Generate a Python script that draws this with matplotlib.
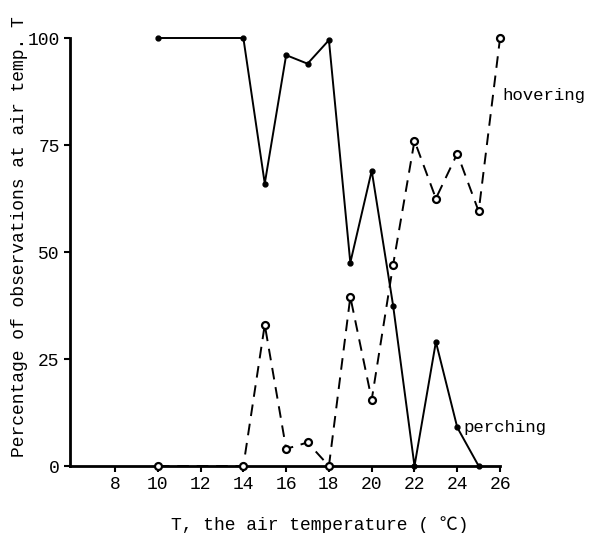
import matplotlib.pyplot as plt

plt.rcParams['font.family'] = ['Liberation Mono', 'DejaVu Sans Mono', 'Noto Sans CJK SC']

temps = [10, 14, 15, 16, 17, 18, 19, 20, 21, 22, 23, 24, 25, 26]
perching = [100, 100, 66, 96, 94, 99.5, 47.5, 69, 37.5, 0, 29, 9, 0, None]
hovering = [0, 0, 33, 4, 5.5, 0, 39.5, 15.5, 47, 76, 62.5, 73, 59.5, 100]

xticks = [8, 10, 12, 14, 16, 18, 20, 22, 24, 26]
yticks = [0, 25, 50, 75, 100]

fig = plt.figure(figsize=(5.89, 5.33), dpi=100)
ax = fig.add_axes([0.119, 0.1257, 0.730, 0.803])

px = [t for t, v in zip(temps, perching) if v is not None]
py = [v for v in perching if v is not None]
ax.plot(px, py, color='black', lw=1.4, marker='o', ms=3.5, clip_on=False, zorder=3)
ax.plot(temps, hovering, color='black', lw=1.4, ls=(0, (6, 4)), marker='o', ms=5,
        mfc='white', mew=1.6, clip_on=False, zorder=3)

ax.text(26.1, 86.5, 'hovering', fontsize=12.5, va='center', ha='left')
ax.text(24.3, 9, 'perching', fontsize=12.5, va='center', ha='left')

ax.set_xlim(5.9, 26)
ax.set_ylim(0, 100)
ax.set_xticks(xticks)
ax.set_yticks(yticks)
ax.tick_params(labelsize=13, width=1.5, length=4, direction='out')
for s in ['top', 'right']:
    ax.spines[s].set_visible(False)
for s in ['left', 'bottom']:
    ax.spines[s].set_linewidth(2)

ax.set_xlabel('T, the air temperature ( \u2103)', fontsize=13)
ax.set_ylabel('Percentage of observations at air temp. T', fontsize=13)
ax.xaxis.set_label_coords(0.58, -0.117)
ax.yaxis.set_label_coords(-0.098, 0.537)

fig.savefig('out.png', dpi=100)
